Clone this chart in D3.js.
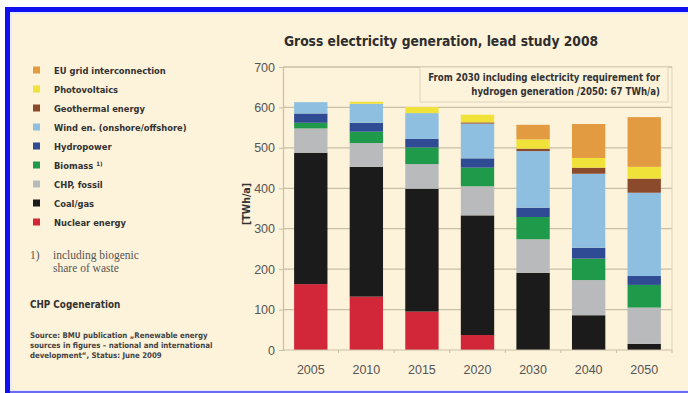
<!DOCTYPE html>
<html>
<head>
<meta charset="utf-8">
<script src="https://cdn.jsdelivr.net/npm/d3@7/dist/d3.min.js"></script>
<style>
  html, body { margin: 0; padding: 0; background: #ffffff; }
  svg { display: block; }
  .cond { font-family: "DejaVu Sans Condensed", "DejaVu Sans", sans-serif; font-stretch: condensed; }
  .arial { font-family: "Liberation Sans", Arial, sans-serif; }
  .serif { font-family: "Liberation Serif", "DejaVu Serif", serif; }
</style>
</head>
<body>
<svg id="chart" width="688" height="393"></svg>
<script>
// Gross electricity generation by source, TWh/a
const years = ["2005", "2010", "2015", "2020", "2030", "2040", "2050"];
const nuclear    = [163, 132, 95, 37, 0, 0, 0];
const coalGas    = [325, 321, 304, 296, 191, 86, 15];
const chpFossil  = [60, 59, 61, 72, 83, 87, 90];
const biomass    = [14, 28, 41, 46, 55, 53, 56];
const hydropower = [23, 22, 21, 23, 23, 27, 22];
const wind       = [28, 47, 64, 86, 140, 183, 206];
const geothermal = [0, 0, 0, 3, 6, 15, 35];
const photovolt  = [0, 5, 15, 19, 23, 24, 29];
const euGrid     = [0, 0, 0, 0, 36, 84, 123];
const yTicks = [0, 100, 200, 300, 400, 500, 600, 700];

// Series from bottom of the stack to the top
const series = [
  { key: "nuclear",    label: "Nuclear energy",               color: "#d22739", values: nuclear },
  { key: "coal",       label: "Coal/gas",                     color: "#1b1b1b", values: coalGas },
  { key: "chp",        label: "CHP, fossil",                  color: "#b8babc", values: chpFossil },
  { key: "biomass",    label: "Biomass",                      color: "#1f9a4a", values: biomass, sup: "1)" },
  { key: "hydro",      label: "Hydropower",                   color: "#2f4b94", values: hydropower },
  { key: "wind",       label: "Wind en. (onshore/offshore)",  color: "#8ebfe0", values: wind },
  { key: "geo",        label: "Geothermal energy",            color: "#8c4a2d", values: geothermal },
  { key: "pv",         label: "Photovoltaics",                color: "#f1e23a", values: photovolt },
  { key: "eu",         label: "EU grid interconnection",      color: "#e29b40", values: euGrid }
];

const rows = years.map((y, i) => {
  const r = { year: y };
  series.forEach(s => { r[s.key] = s.values[i]; });
  return r;
});

const svg = d3.select("#chart");
const W = 688, H = 393;

// Page background and blue frame
svg.append("rect").attr("width", W).attr("height", H).attr("fill", "#ffffff");
svg.append("rect").attr("x", 5).attr("y", 7).attr("width", W - 5).attr("height", H - 7).attr("fill", "#1010f0");
svg.append("rect").attr("x", 10).attr("y", 12).attr("width", W - 10).attr("height", H - 14).attr("fill", "#e8eaff");
svg.append("rect").attr("x", 12).attr("y", 14).attr("width", W - 12).attr("height", H - 17).attr("fill", "#fdf2da");
svg.append("rect").attr("x", 10).attr("y", H - 2).attr("width", W - 10).attr("height", 2).attr("fill", "#6a6cf5");

// Title
svg.append("text").attr("class", "cond")
  .attr("x", 441).attr("y", 46).attr("text-anchor", "middle")
  .attr("font-size", 13.7).attr("font-weight", "bold").attr("fill", "#2e2e2e")
  .text("Gross electricity generation, lead study 2008");

// Scales
const plot = { left: 283, right: 672, top: 67, bottom: 350 };
const x = d3.scaleBand().domain(years).range([plot.left, plot.right]).paddingInner(0.4).paddingOuter(0.2);
const y = d3.scaleLinear().domain([0, 700]).range([plot.bottom, plot.top]);

const gridColor = "#c9bea6";

// Horizontal gridlines
svg.append("g").selectAll("line").data(yTicks.filter(t => t > 0)).join("line")
  .attr("x1", plot.left).attr("x2", plot.right)
  .attr("y1", d => y(d)).attr("y2", d => y(d))
  .attr("stroke", gridColor).attr("stroke-width", 1.2);

// Right frame line
svg.append("line").attr("x1", plot.right).attr("x2", plot.right)
  .attr("y1", plot.top).attr("y2", plot.bottom).attr("stroke", "#ddd3bd").attr("stroke-width", 1);

// Stacked bars
const stack = d3.stack().keys(series.map(s => s.key));
const layers = stack(rows);
svg.append("g").selectAll("g").data(layers).join("g")
  .attr("fill", (d, i) => series[i].color)
  .selectAll("rect").data(d => d).join("rect")
  .attr("x", d => x(d.data.year))
  .attr("width", x.bandwidth())
  .attr("y", d => y(d[1]))
  .attr("height", d => Math.max(0, y(d[0]) - y(d[1])));

// Y axis
const yAxis = svg.append("g").attr("transform", `translate(${plot.left},0)`)
  .call(d3.axisLeft(y).tickValues(yTicks).tickSize(4).tickPadding(4));
yAxis.select(".domain").attr("stroke", gridColor).attr("stroke-width", 1.2);
yAxis.selectAll(".tick line").attr("stroke", gridColor);
yAxis.selectAll(".tick text").attr("class", "arial").attr("font-size", 12.5).attr("fill", "#555555");

// X axis with ticks at band boundaries
const xAxisG = svg.append("g").attr("transform", `translate(0,${plot.bottom})`);
xAxisG.append("line").attr("x1", plot.left).attr("x2", plot.right)
  .attr("stroke", gridColor).attr("stroke-width", 1.2);
const step = x.step();
const bounds = d3.range(1, years.length).map(i => x(years[i]) - (step - x.bandwidth()) / 2);
xAxisG.selectAll("line.tk").data(bounds.concat([plot.right])).join("line").attr("class", "tk")
  .attr("x1", d => d).attr("x2", d => d).attr("y1", 0).attr("y2", 3)
  .attr("stroke", gridColor);
xAxisG.selectAll("text").data(years).join("text").attr("class", "arial")
  .attr("x", d => x(d) + x.bandwidth() / 2).attr("y", 24)
  .attr("text-anchor", "middle").attr("font-size", 12.5).attr("fill", "#555555")
  .text(d => d);

// Top frame line
svg.append("line").attr("x1", plot.left).attr("x2", plot.right)
  .attr("y1", plot.top).attr("y2", plot.top).attr("stroke", gridColor).attr("stroke-width", 1.2);

// Y axis unit
svg.append("text").attr("class", "cond")
  .attr("transform", "translate(250,204) rotate(-90)")
  .attr("text-anchor", "middle").attr("font-size", 10.5).attr("font-weight", "bold").attr("fill", "#333")
  .text("[TWh/a]");

// Note box
svg.append("rect").attr("x", 420).attr("y", plot.top).attr("width", 248).attr("height", 35)
  .attr("fill", "#fdf2da").attr("stroke", "#ddd3bd").attr("stroke-width", 1);
const note = svg.append("text").attr("class", "cond").attr("text-anchor", "end")
  .attr("font-size", 9.6).attr("font-weight", "bold").attr("fill", "#333");
note.append("tspan").attr("x", 660).attr("y", 81).text("From 2030 including electricity requirement for");
note.append("tspan").attr("x", 660).attr("y", 95).text("hydrogen generation /2050: 67 TWh/a)");

// Legend, top to bottom in reverse stacking order
const legend = svg.append("g");
const legendItems = series.slice().reverse();
const lg = legend.selectAll("g").data(legendItems).join("g")
  .attr("transform", (d, i) => `translate(0,${70 + i * 19})`);
lg.append("rect").attr("x", 33).attr("y", -3.5).attr("width", 7).attr("height", 7)
  .attr("fill", d => d.color);
const lt = lg.append("text").attr("class", "cond").attr("x", 54).attr("y", 4)
  .attr("font-size", 9.3).attr("font-weight", "bold").attr("fill", "#333");
lt.append("tspan").text(d => d.label);
lt.filter(d => d.sup).append("tspan").attr("dx", 3).attr("dy", -3).attr("font-size", 6).text(d => d.sup);

// Footnote
const fn = svg.append("g").attr("class", "serif").attr("font-size", 11.5).attr("fill", "#555");
fn.append("text").attr("x", 30).attr("y", 259).text("1)");
fn.append("text").attr("x", 53).attr("y", 259).text("including biogenic");
fn.append("text").attr("x", 53).attr("y", 272).text("share of waste");

svg.append("text").attr("class", "cond").attr("x", 30).attr("y", 308)
  .attr("font-size", 9.8).attr("font-weight", "bold").attr("fill", "#333")
  .text("CHP Cogeneration");

const src = svg.append("text").attr("class", "cond")
  .attr("font-size", 7.8).attr("font-weight", "bold").attr("fill", "#444");
src.append("tspan").attr("x", 30).attr("y", 338).text("Source: BMU publication \u201eRenewable energy");
src.append("tspan").attr("x", 30).attr("y", 348).text("sources in figures \u2013 national and international");
src.append("tspan").attr("x", 30).attr("y", 358).text("development\u201c, Status: June 2009");
</script>
</body>
</html>
